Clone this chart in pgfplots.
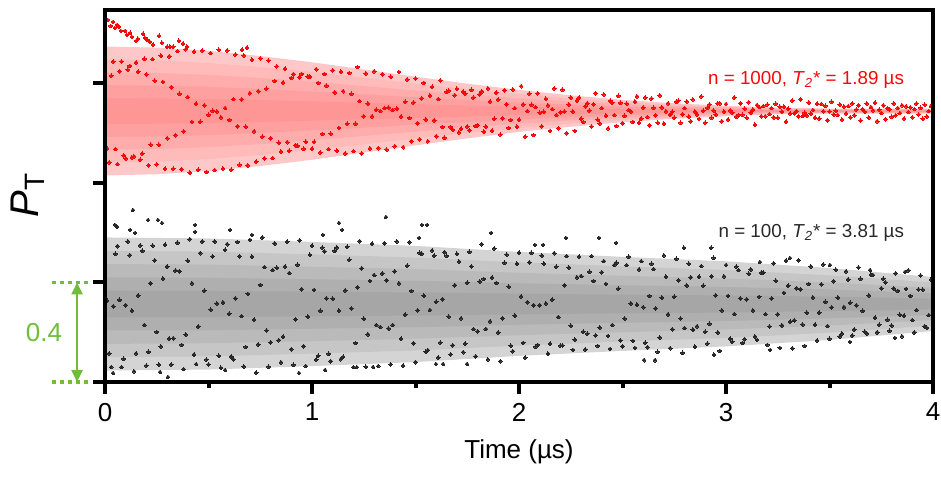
\documentclass[border=0pt]{standalone}
\usepackage{fontspec}
\setmainfont{Liberation Sans}
\usepackage{pgfplots}
\usepackage{pgfplotstable}
\pgfplotsset{compat=1.18}
\usepgfplotslibrary{fillbetween}
\usetikzlibrary{arrows.meta}
\definecolor{grn}{RGB}{112,189,58}
\definecolor{rA}{RGB}{255,200,200}
\definecolor{rB}{RGB}{255,186,186}
\definecolor{rC}{RGB}{255,172,172}
\definecolor{rD}{RGB}{255,160,160}
\definecolor{rE}{RGB}{255,150,150}
\definecolor{gA}{RGB}{212,212,212}
\definecolor{gB}{RGB}{198,198,198}
\definecolor{gC}{RGB}{186,186,186}
\definecolor{gD}{RGB}{175,175,175}
\definecolor{gE}{RGB}{166,166,166}
\definecolor{dotred}{RGB}{245,10,10}
\definecolor{dotblk}{RGB}{40,40,40}

\pgfplotstableread{
x u1 l1 u2 l2 u3 l3 u4 l4 u5 l5
0 1.348 0.830 1.296 0.882 1.244 0.934 1.193 0.985 1.141 1.037
0.25 1.344 0.835 1.293 0.885 1.242 0.936 1.191 0.987 1.140 1.038
0.5 1.331 0.848 1.282 0.896 1.234 0.944 1.186 0.992 1.137 1.041
0.75 1.310 0.868 1.266 0.912 1.222 0.956 1.178 1.001 1.133 1.045
1.0 1.285 0.893 1.246 0.932 1.207 0.972 1.167 1.011 1.128 1.050
1.25 1.256 0.922 1.223 0.955 1.189 0.989 1.156 1.022 1.122 1.056
1.5 1.227 0.951 1.199 0.979 1.172 1.006 1.144 1.034 1.117 1.061
1.75 1.199 0.979 1.177 1.001 1.155 1.023 1.133 1.045 1.111 1.067
2.0 1.174 1.005 1.157 1.021 1.140 1.038 1.123 1.055 1.106 1.072
2.25 1.152 1.026 1.139 1.039 1.127 1.051 1.114 1.064 1.102 1.076
2.5 1.134 1.044 1.125 1.053 1.116 1.062 1.107 1.071 1.098 1.080
2.75 1.120 1.058 1.114 1.064 1.108 1.070 1.102 1.077 1.095 1.083
3.0 1.110 1.068 1.106 1.072 1.102 1.077 1.097 1.081 1.093 1.085
3.25 1.103 1.076 1.100 1.078 1.097 1.081 1.094 1.084 1.092 1.086
3.5 1.099 1.079 1.097 1.081 1.095 1.083 1.093 1.085 1.091 1.087
3.75 1.099 1.079 1.097 1.081 1.095 1.083 1.093 1.085 1.091 1.087
4.0 1.099 1.079 1.097 1.081 1.095 1.083 1.093 1.085 1.091 1.087
}\redenv

\pgfplotstableread{
x u1 l1 u2 l2 u3 l3 u4 l4 u5 l5
0 0.581 0.046 0.527 0.100 0.474 0.153 0.421 0.207 0.367 0.260
0.5 0.577 0.050 0.524 0.103 0.472 0.156 0.419 0.208 0.366 0.261
1 0.563 0.064 0.513 0.114 0.463 0.164 0.413 0.214 0.363 0.264
1.5 0.547 0.080 0.500 0.127 0.454 0.174 0.407 0.220 0.360 0.267
2 0.523 0.105 0.481 0.146 0.439 0.188 0.397 0.230 0.355 0.272
2.5 0.503 0.125 0.465 0.163 0.427 0.200 0.389 0.238 0.351 0.276
3 0.485 0.143 0.450 0.177 0.416 0.211 0.382 0.245 0.348 0.279
3.5 0.458 0.169 0.429 0.198 0.400 0.227 0.372 0.256 0.343 0.285
4 0.422 0.205 0.400 0.227 0.379 0.249 0.357 0.270 0.335 0.292
}\grayenv

\begin{document}
\begin{tikzpicture}
\begin{axis}[
  name=ax,
  scale only axis, width=414pt, height=186pt,
  xmin=0, xmax=4, ymin=0, ymax=1.495,
  axis line style={line width=2pt},
  xtick={0,1,2,3,4}, minor xtick={0.5,1.5,2.5,3.5},
  ytick={0,0.4,0.8,1.2}, yticklabels={},
  tick align=outside, xtick pos=bottom, ytick pos=left,
  major tick length=6pt, minor tick length=3pt,
  every tick/.style={line width=2pt, black},
  tick label style={font=\fontsize{13}{15}\selectfont},
  xticklabel style={yshift=-1pt},
  /pgf/number format/assume math mode=true,
  xlabel={Time (µs)},
  xlabel style={font=\fontsize{13}{15}\selectfont, at={(axis description cs:0.5,-0.188)}, anchor=center},
  clip=false,
  axis on top,
]
% gray band
\addplot[draw=none, forget plot, name path=gu1] table[x=x,y=u1]{\grayenv};
\addplot[draw=none, forget plot, name path=gl1] table[x=x,y=l1]{\grayenv};
\addplot[draw=none, forget plot, name path=gu2] table[x=x,y=u2]{\grayenv};
\addplot[draw=none, forget plot, name path=gl2] table[x=x,y=l2]{\grayenv};
\addplot[draw=none, forget plot, name path=gu3] table[x=x,y=u3]{\grayenv};
\addplot[draw=none, forget plot, name path=gl3] table[x=x,y=l3]{\grayenv};
\addplot[draw=none, forget plot, name path=gu4] table[x=x,y=u4]{\grayenv};
\addplot[draw=none, forget plot, name path=gl4] table[x=x,y=l4]{\grayenv};
\addplot[draw=none, forget plot, name path=gu5] table[x=x,y=u5]{\grayenv};
\addplot[draw=none, forget plot, name path=gl5] table[x=x,y=l5]{\grayenv};
\addplot[fill=gA, draw=none] fill between[of=gu1 and gl1];
\addplot[fill=gB, draw=none] fill between[of=gu2 and gl2];
\addplot[fill=gC, draw=none] fill between[of=gu3 and gl3];
\addplot[fill=gD, draw=none] fill between[of=gu4 and gl4];
\addplot[fill=gE, draw=none] fill between[of=gu5 and gl5];
% red band
\addplot[draw=none, forget plot, name path=ru1] table[x=x,y=u1]{\redenv};
\addplot[draw=none, forget plot, name path=rl1] table[x=x,y=l1]{\redenv};
\addplot[draw=none, forget plot, name path=ru2] table[x=x,y=u2]{\redenv};
\addplot[draw=none, forget plot, name path=rl2] table[x=x,y=l2]{\redenv};
\addplot[draw=none, forget plot, name path=ru3] table[x=x,y=u3]{\redenv};
\addplot[draw=none, forget plot, name path=rl3] table[x=x,y=l3]{\redenv};
\addplot[draw=none, forget plot, name path=ru4] table[x=x,y=u4]{\redenv};
\addplot[draw=none, forget plot, name path=rl4] table[x=x,y=l4]{\redenv};
\addplot[draw=none, forget plot, name path=ru5] table[x=x,y=u5]{\redenv};
\addplot[draw=none, forget plot, name path=rl5] table[x=x,y=l5]{\redenv};
\addplot[fill=rA, draw=none] fill between[of=ru1 and rl1];
\addplot[fill=rB, draw=none] fill between[of=ru2 and rl2];
\addplot[fill=rC, draw=none] fill between[of=ru3 and rl3];
\addplot[fill=rD, draw=none] fill between[of=ru4 and rl4];
\addplot[fill=rE, draw=none] fill between[of=ru5 and rl5];

% red dots
\addplot[dotred, only marks, mark=*, mark size=0.95pt, mark options={dotred, fill=dotred, line width=0pt}] coordinates {
(0,1.308)(0.01,0.939)(0.02,0.883)(0.03,1.231)
(0.04,1.288)(0.05,0.936)(0.06,0.876)(0.07,1.249)
(0.08,1.288)(0.09,0.911)(0.1,0.898)(0.11,1.255)
(0.12,1.270)(0.13,0.903)(0.14,0.907)(0.15,1.284)
(0.16,1.247)(0.17,0.893)(0.18,0.918)(0.19,1.299)
(0.2,1.236)(0.21,0.871)(0.22,0.954)(0.23,1.298)
(0.24,1.211)(0.25,0.875)(0.26,0.953)(0.27,1.311)
(0.28,1.206)(0.29,0.857)(0.3,0.980)(0.31,1.309)
(0.32,1.185)(0.33,0.857)(0.34,0.992)(0.35,1.330)
(0.36,1.158)(0.37,0.855)(0.38,1.007)(0.39,1.337)
(0.4,1.145)(0.41,0.841)(0.42,1.045)(0.43,1.328)
(0.44,1.118)(0.45,0.853)(0.46,1.046)(0.47,1.332)
(0.48,1.112)(0.49,0.844)(0.5,1.074)(0.51,1.322)
(0.52,1.090)(0.53,0.852)(0.54,1.087)(0.55,1.335)
(0.56,1.064)(0.57,0.858)(0.58,1.101)(0.59,1.333)
(0.6,1.053)(0.61,0.853)(0.62,1.137)(0.63,1.316)
(0.64,1.028)(0.65,0.873)(0.66,1.136)(0.67,1.312)
(0.68,1.026)(0.69,0.871)(0.7,1.161)(0.71,1.295)
(0.72,1.008)(0.73,0.886)(0.74,1.169)(0.75,1.301)
(0.76,0.986)(0.77,0.899)(0.78,1.179)(0.79,1.292)
(0.8,0.980)(0.81,0.900)(0.82,1.210)(0.83,1.269)
(0.84,0.961)(0.85,0.926)(0.86,1.204)(0.87,1.259)
(0.88,0.964)(0.89,0.929)(0.9,1.222)(0.91,1.237)
(0.92,0.952)(0.93,0.949)(0.94,1.225)(0.95,1.238)
(0.96,0.937)(0.97,0.965)(0.98,1.228)(0.99,1.227)
(1,0.937)(1.01,0.965)(1.02,1.257)(1.03,1.202)
(1.04,0.922)(1.05,0.997)(1.06,1.238)(1.07,1.191)
(1.08,0.936)(1.09,0.998)(1.1,1.253)(1.11,1.164)
(1.12,0.930)(1.13,1.021)(1.14,1.247)(1.15,1.169)
(1.16,0.919)(1.17,1.038)(1.18,1.242)(1.19,1.158)
(1.2,0.928)(1.21,1.038)(1.22,1.266)(1.23,1.129)
(1.24,0.919)(1.25,1.068)(1.26,1.240)(1.27,1.119)
(1.28,0.939)(1.29,1.068)(1.3,1.249)(1.31,1.094)
(1.32,0.940)(1.33,1.089)(1.34,1.237)(1.35,1.101)
(1.36,0.934)(1.37,1.103)(1.38,1.227)(1.39,1.093)
(1.4,0.948)(1.41,1.099)(1.42,1.246)(1.43,1.067)
(1.44,0.944)(1.45,1.126)(1.46,1.216)(1.47,1.061)
(1.48,0.968)(1.49,1.123)(1.5,1.220)(1.51,1.040)
(1.52,0.975)(1.53,1.140)(1.54,1.202)(1.55,1.055)
(1.56,0.968)(1.57,1.151)(1.58,1.186)(1.59,1.052)
(1.6,0.988)(1.61,1.137)(1.62,1.212)(1.63,1.025)
(1.64,0.982)(1.65,1.166)(1.66,1.171)(1.67,1.025)
(1.68,1.014)(1.69,1.153)(1.7,1.178)(1.71,1.004)
(1.72,1.018)(1.73,1.167)(1.74,1.159)(1.75,1.027)
(1.76,1.012)(1.77,1.174)(1.78,1.143)(1.79,1.029)
(1.8,1.032)(1.81,1.156)(1.82,1.168)(1.83,1.006)
(1.84,1.026)(1.85,1.180)(1.86,1.127)(1.87,1.010)
(1.88,1.058)(1.89,1.163)(1.9,1.135)(1.91,0.994)
(1.92,1.060)(1.93,1.173)(1.94,1.116)(1.95,1.021)
(1.96,1.053)(1.97,1.176)(1.98,1.101)(1.99,1.026)
(2,1.054)(2.01,1.189)(2.02,1.116)(2.03,0.986)
(2.04,1.089)(2.05,1.159)(2.06,1.114)(2.07,0.993)
(2.08,1.105)(2.09,1.160)(2.1,1.082)(2.11,1.028)
(2.12,1.086)(2.13,1.138)(2.14,1.112)(2.15,1.009)
(2.16,1.097)(2.17,1.180)(2.18,1.073)(2.19,1.020)
(2.2,1.084)(2.21,1.175)(2.22,1.087)(2.23,1.000)
(2.24,1.115)(2.25,1.143)(2.26,1.087)(2.27,1.009)
(2.28,1.130)(2.29,1.143)(2.3,1.058)(2.31,1.045)
(2.32,1.108)(2.33,1.120)(2.34,1.091)(2.35,1.027)
(2.36,1.116)(2.37,1.161)(2.38,1.054)(2.39,1.039)
(2.4,1.101)(2.41,1.156)(2.42,1.070)(2.43,1.020)
(2.44,1.130)(2.45,1.123)(2.46,1.073)(2.47,1.029)
(2.48,1.150)(2.49,1.122)(2.5,1.040)(2.51,1.070)
(2.52,1.119)(2.53,1.093)(2.54,1.087)(2.55,1.045)
(2.56,1.126)(2.57,1.148)(2.58,1.042)(2.59,1.059)
(2.6,1.103)(2.61,1.143)(2.62,1.065)(2.63,1.032)
(2.64,1.139)(2.65,1.102)(2.66,1.072)(2.67,1.042)
(2.68,1.152)(2.69,1.104)(2.7,1.038)(2.71,1.088)
(2.72,1.120)(2.73,1.075)(2.74,1.086)(2.75,1.062)
(2.76,1.126)(2.77,1.131)(2.78,1.042)(2.79,1.076)
(2.8,1.101)(2.81,1.127)(2.82,1.067)(2.83,1.048)
(2.84,1.136)(2.85,1.087)(2.86,1.075)(2.87,1.057)
(2.88,1.148)(2.89,1.090)(2.9,1.042)(2.91,1.102)
(2.92,1.115)(2.93,1.062)(2.94,1.091)(2.95,1.075)
(2.96,1.120)(2.97,1.120)(2.98,1.048)(2.99,1.087)
(3,1.117)(3.01,1.055)(3.02,1.092)(3.03,1.082)
(3.04,1.143)(3.05,1.066)(3.06,1.073)(3.07,1.120)
(3.08,1.074)(3.09,1.099)(3.1,1.062)(3.11,1.124)
(3.12,1.083)(3.13,1.095)(3.14,1.034)(3.15,1.113)
(3.16,1.105)(3.17,1.068)(3.18,1.109)(3.19,1.068)
(3.2,1.115)(3.21,1.077)(3.22,1.101)(3.23,1.063)
(3.24,1.118)(3.25,1.062)(3.26,1.106)(3.27,1.086)
(3.28,1.106)(3.29,1.046)(3.3,1.099)(3.31,1.079)
(3.32,1.131)(3.33,1.080)(3.34,1.089)(3.35,1.068)
(3.36,1.136)(3.37,1.069)(3.38,1.082)(3.39,1.071)
(3.4,1.123)(3.41,1.078)(3.42,1.093)(3.43,1.062)
(3.44,1.118)(3.45,1.059)(3.46,1.117)(3.47,1.088)
(3.48,1.110)(3.49,1.052)(3.5,1.087)(3.51,1.126)
(3.52,1.075)(3.53,1.090)(3.54,1.073)(3.55,1.115)
(3.56,1.055)(3.57,1.107)(3.58,1.079)(3.59,1.109)
(3.6,1.064)(3.61,1.119)(3.62,1.072)(3.63,1.095)
(3.64,1.112)(3.65,1.051)(3.66,1.097)(3.67,1.086)
(3.68,1.119)(3.69,1.063)(3.7,1.105)(3.71,1.092)
(3.72,1.122)(3.73,1.048)(3.74,1.094)(3.75,1.081)
(3.76,1.112)(3.77,1.056)(3.78,1.100)(3.79,1.096)
(3.8,1.066)(3.81,1.119)(3.82,1.072)(3.83,1.101)
(3.84,1.081)(3.85,1.112)(3.86,1.059)(3.87,1.108)
(3.88,1.085)(3.89,1.104)(3.9,1.064)(3.91,1.097)
(3.92,1.119)(3.93,1.075)(3.94,1.102)(3.95,1.058)
(3.96,1.114)(3.97,1.067)(3.98,1.089)(3.99,1.109)
(4,1.083)
(0.014,1.455)(0.027,1.431)(0.039,1.447)(0.058,1.435)(0.048,1.423)(0.068,1.427)
(0.077,1.411)(0.097,1.411)(0.106,1.395)(0.121,1.403)(0.130,1.387)(0.150,1.371)
(0.159,1.379)(0.184,1.399)(0.193,1.383)(0.203,1.375)(0.217,1.367)(0.232,1.355)
(0.261,1.391)(0.275,1.363)(0.300,1.347)(0.314,1.347)(0.329,1.347)(0.357,1.371)
(0.377,1.359)(0.396,1.347)(0.662,1.335)(0.686,1.343)
};

% black dots
\addplot[dotblk, only marks, mark=*, mark size=0.95pt, mark options={dotblk, fill=dotblk, line width=0pt}] coordinates {
(0,0.565)(0.01,0.326)(0.02,0.115)(0.03,0.060)(0.04,0.304)(0.05,0.515)
(0.06,0.546)(0.07,0.330)(0.08,0.060)(0.09,0.093)(0.1,0.309)(0.11,0.565)
(0.12,0.510)(0.13,0.287)(0.14,0.043)(0.15,0.115)(0.16,0.348)(0.17,0.549)
(0.18,0.527)(0.19,0.229)(0.2,0.066)(0.21,0.121)(0.22,0.397)(0.23,0.548)
(0.24,0.489)(0.25,0.201)(0.26,0.070)(0.27,0.143)(0.28,0.416)(0.29,0.552)
(0.3,0.464)(0.31,0.174)(0.32,0.070)(0.33,0.176)(0.34,0.448)(0.35,0.560)
(0.36,0.445)(0.37,0.149)(0.38,0.052)(0.39,0.191)(0.4,0.487)(0.41,0.574)
(0.42,0.397)(0.43,0.110)(0.44,0.072)(0.45,0.223)(0.46,0.518)(0.47,0.565)
(0.48,0.367)(0.49,0.090)(0.5,0.070)(0.51,0.291)(0.52,0.505)(0.53,0.565)
(0.54,0.316)(0.55,0.105)(0.56,0.057)(0.57,0.320)(0.58,0.531)(0.59,0.554)
(0.6,0.274)(0.61,0.102)(0.62,0.091)(0.63,0.336)(0.64,0.563)(0.65,0.505)
(0.66,0.265)(0.67,0.062)(0.68,0.141)(0.69,0.354)(0.7,0.571)(0.71,0.504)
(0.72,0.250)(0.73,0.038)(0.74,0.151)(0.75,0.390)(0.76,0.581)(0.77,0.462)
(0.78,0.207)(0.79,0.061)(0.8,0.159)(0.81,0.450)(0.82,0.557)(0.83,0.459)
(0.84,0.168)(0.85,0.079)(0.86,0.182)(0.87,0.464)(0.88,0.564)(0.89,0.438)
(0.9,0.132)(0.91,0.069)(0.92,0.252)(0.93,0.471)(0.94,0.569)(0.95,0.373)
(0.96,0.144)(0.97,0.064)(0.98,0.263)(0.99,0.511)(1,0.547)(1.01,0.370)
(1.02,0.090)(1.03,0.105)(1.04,0.286)(1.05,0.540)(1.06,0.525)(1.07,0.336)
(1.08,0.113)(1.09,0.084)(1.1,0.335)(1.11,0.527)(1.12,0.541)(1.13,0.287)
(1.14,0.092)(1.15,0.101)(1.16,0.368)(1.17,0.543)(1.18,0.491)(1.19,0.296)
(1.2,0.060)(1.21,0.157)(1.22,0.381)(1.23,0.566)(1.24,0.457)(1.25,0.254)
(1.26,0.061)(1.27,0.192)(1.28,0.406)(1.29,0.556)(1.3,0.430)(1.31,0.229)
(1.32,0.064)(1.33,0.221)(1.34,0.436)(1.35,0.558)(1.36,0.409)(1.37,0.215)
(1.38,0.071)(1.39,0.229)(1.4,0.445)(1.41,0.565)(1.42,0.397)(1.43,0.174)
(1.44,0.066)(1.45,0.271)(1.46,0.467)(1.47,0.562)(1.48,0.366)(1.49,0.156)
(1.5,0.080)(1.51,0.288)(1.52,0.519)(1.53,0.515)(1.54,0.347)(1.55,0.121)
(1.56,0.128)(1.57,0.289)(1.58,0.529)(1.59,0.508)(1.6,0.322)(1.61,0.098)
(1.62,0.158)(1.63,0.333)(1.64,0.522)(1.65,0.507)(1.66,0.263)(1.67,0.111)
(1.68,0.148)(1.69,0.389)(1.7,0.515)(1.71,0.484)(1.72,0.256)(1.73,0.120)
(1.74,0.154)(1.75,0.399)(1.76,0.523)(1.77,0.465)(1.78,0.213)(1.79,0.103)
(1.8,0.203)(1.81,0.404)(1.82,0.554)(1.83,0.414)(1.84,0.213)(1.85,0.091)
(1.86,0.244)(1.87,0.420)(1.88,0.537)(1.89,0.398)(1.9,0.199)(1.91,0.084)
(1.92,0.256)(1.93,0.479)(1.94,0.512)(1.95,0.383)(1.96,0.146)(1.97,0.124)
(1.98,0.267)(1.99,0.475)(2,0.520)(2.01,0.344)(2.02,0.157)(2.03,0.098)
(2.04,0.321)(2.05,0.481)(2.06,0.519)(2.07,0.309)(2.08,0.142)(2.09,0.149)
(2.1,0.309)(2.11,0.508)(2.12,0.476)(2.13,0.316)(2.14,0.114)(2.15,0.154)
(2.16,0.331)(2.17,0.518)(2.18,0.463)(2.19,0.261)(2.2,0.146)(2.21,0.147)
(2.22,0.389)(2.23,0.506)(2.24,0.460)(2.25,0.226)(2.26,0.129)(2.27,0.170)
(2.28,0.421)(2.29,0.504)(2.3,0.426)(2.31,0.202)(2.32,0.131)(2.33,0.194)
(2.34,0.443)(2.35,0.506)(2.36,0.406)(2.37,0.187)(2.38,0.145)(2.39,0.219)
(2.4,0.441)(2.41,0.486)(2.42,0.394)(2.43,0.185)(2.44,0.133)(2.45,0.229)
(2.46,0.470)(2.47,0.479)(2.48,0.375)(2.49,0.167)(2.5,0.144)(2.51,0.255)
(2.52,0.470)(2.53,0.503)(2.54,0.316)(2.55,0.165)(2.56,0.137)(2.57,0.311)
(2.58,0.453)(2.59,0.486)(2.6,0.301)(2.61,0.158)(2.62,0.140)(2.63,0.346)
(2.64,0.475)(2.65,0.454)(2.66,0.296)(2.67,0.121)(2.68,0.179)(2.69,0.339)
(2.7,0.509)(2.71,0.423)(2.72,0.272)(2.73,0.136)(2.74,0.212)(2.75,0.343)
(2.76,0.495)(2.77,0.409)(2.78,0.255)(2.79,0.117)(2.8,0.217)(2.81,0.388)
(2.82,0.475)(2.83,0.421)(2.84,0.210)(2.85,0.142)(2.86,0.224)(2.87,0.423)
(2.88,0.466)(2.89,0.387)(2.9,0.202)(2.91,0.154)(2.92,0.234)(2.93,0.425)
(2.94,0.499)(2.95,0.348)(2.96,0.199)(2.97,0.125)(2.98,0.288)(2.99,0.425)
(3,0.470)(3.01,0.346)(3.02,0.174)(3.03,0.162)(3.04,0.273)(3.05,0.464)
(3.06,0.450)(3.07,0.336)(3.08,0.157)(3.09,0.172)(3.1,0.332)(3.11,0.435)
(3.12,0.453)(3.13,0.288)(3.14,0.183)(3.15,0.169)(3.16,0.342)(3.17,0.439)
(3.18,0.440)(3.19,0.273)(3.2,0.149)(3.21,0.223)(3.22,0.336)(3.23,0.477)
(3.24,0.407)(3.25,0.272)(3.26,0.137)(3.27,0.228)(3.28,0.358)(3.29,0.488)
(3.3,0.387)(3.31,0.243)(3.32,0.136)(3.33,0.248)(3.34,0.377)(3.35,0.489)
(3.36,0.373)(3.37,0.231)(3.38,0.145)(3.39,0.278)(3.4,0.394)(3.41,0.465)
(3.42,0.340)(3.43,0.230)(3.44,0.167)(3.45,0.279)(3.46,0.393)(3.47,0.472)
(3.48,0.322)(3.49,0.225)(3.5,0.174)(3.51,0.300)(3.52,0.405)(3.53,0.451)
(3.54,0.339)(3.55,0.183)(3.56,0.195)(3.57,0.301)(3.58,0.445)(3.59,0.412)
(3.6,0.318)(3.61,0.187)(3.62,0.211)(3.63,0.308)(3.64,0.460)(3.65,0.415)
(3.66,0.286)(3.67,0.202)(3.68,0.195)(3.69,0.348)(3.7,0.432)(3.71,0.430)
(3.72,0.258)(3.73,0.200)(3.74,0.230)(3.75,0.377)(3.76,0.415)(3.77,0.400)
(3.78,0.250)(3.79,0.206)(3.8,0.227)(3.81,0.376)(3.82,0.437)(3.83,0.366)
(3.84,0.270)(3.85,0.184)(3.86,0.266)(3.87,0.374)(3.88,0.449)(3.89,0.346)
(3.9,0.249)(3.91,0.199)(3.92,0.289)(3.93,0.372)(3.94,0.428)(3.95,0.371)
(3.96,0.224)(3.97,0.218)(3.98,0.269)(3.99,0.412)(4,0.405)
(0.135,0.691)(0.048,0.631)(0.058,0.623)(0.208,0.651)(0.256,0.651)(0.275,0.639)
(0.145,0.599)(0.121,0.611)(0.435,0.631)(0.435,0.603)(0.604,0.611)(0.710,0.591)
(0.039,0.036)(0.266,0.040)(0.304,0.020)(0.580,0.048)(0.937,0.036)(1.130,0.639)
(1.145,0.611)(1.357,0.663)(1.531,0.631)(1.556,0.631)(1.517,0.579)(1.053,0.591)
(1.865,0.599)(1.063,0.048)(1.217,0.060)(1.599,0.072)(1.633,0.072)(1.749,0.072)
(1.295,0.060)(2.227,0.579)(2.386,0.579)(2.077,0.551)(2.116,0.551)(2.469,0.559)
(2.797,0.539)(2.928,0.539)(2.604,0.088)(2.657,0.088)(2.942,0.109)(3.164,0.482)
(3.309,0.498)(3.502,0.470)(3.696,0.450)(3.865,0.442)(3.213,0.129)(3.599,0.161)
(3.816,0.177)
};

% annotations
\node[anchor=east, text=dotred, font=\fontsize{9.4}{11}\selectfont] at (axis cs:3.894,1.214)
  {n = 1000, \textit{T}\textsubscript{\textit{2}}* = 1.89 µs};
\node[anchor=east, text=dotblk, font=\fontsize{9.4}{11}\selectfont] at (axis cs:3.894,0.599)
  {n = 100, \textit{T}\textsubscript{\textit{2}}* = 3.81 µs};
\node[rotate=90, font=\fontsize{20}{24}\selectfont] at (rel axis cs:-0.093,0.503)
  {\textit{P}\textsubscript{T}};
\draw[grn, line width=1.6pt, dash pattern=on 2.2pt off 1.8pt] (axis cs:-0.256,0.4) -- (axis cs:-0.082,0.4);
\draw[grn, line width=1.6pt, dash pattern=on 2.2pt off 1.8pt] (axis cs:-0.256,0) -- (axis cs:-0.082,0);
\draw[grn, line width=1.2pt, {Triangle[length=6pt,width=5.5pt]}-{Triangle[length=6pt,width=5.5pt]}] (axis cs:-0.135,0.4) -- (axis cs:-0.135,0);
\node[text=grn, font=\fontsize{13}{15}\selectfont] at (axis cs:-0.295,0.197) {0.4};
\end{axis}
\pgfresetboundingbox
\path[use as bounding box] ([xshift=-52.5pt,yshift=-48pt]ax.south west) rectangle ([xshift=418pt,yshift=191pt]ax.south west);
\end{tikzpicture}
\end{document}
